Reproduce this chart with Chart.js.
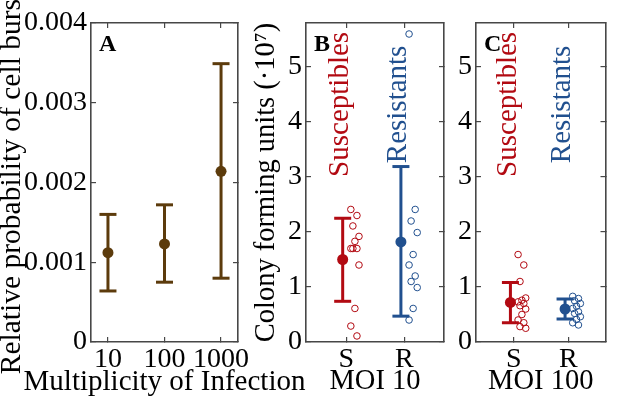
<!DOCTYPE html>
<html>
<head>
<meta charset="utf-8">
<script src="https://cdn.jsdelivr.net/npm/chart.js@4.4.1/dist/chart.umd.min.js"></script>
<style>
  html, body { margin: 0; padding: 0; background: #fff; }
  #wrap { position: relative; width: 617px; height: 396px; overflow: hidden; }
  #wrap canvas { position: absolute; left: 0; top: 0; }
</style>
</head>
<body>
<div id="wrap">
  <canvas id="panelA" width="617" height="396"></canvas>
  <canvas id="panelB" width="617" height="396"></canvas>
  <canvas id="panelC" width="617" height="396"></canvas>
</div>
<script>
// Panel A: relative probability of cell burst per MOI
const moiLabels = ["10", "100", "1000"];
const burstMean = [0.00112, 0.00123, 0.00214];
const burstLow = [0.00064, 0.00075, 0.0008];
const burstHigh = [0.0016, 0.00172, 0.00349];
const burstTicks = [0, 0.001, 0.002, 0.003, 0.004];
const burstTickLabels = ["0", "0.001", "0.002", "0.003", "0.004"];

// Panels B and C: colony forming units (x 10^7)
const groupLabels = ["S", "R"];
const cfuTicks = [0, 1, 2, 3, 4, 5];
const cfuTickLabels = ["0", "1", "2", "3", "4", "5"];

const moi10Mean = [1.50, 1.82];
const moi10Low = [0.74, 0.47];
const moi10High = [2.25, 3.19];
const moi10Susceptibles = [2.41, 2.30, 2.11, 1.92, 1.83, 1.70, 1.70, 1.70, 1.40, 0.61, 0.29, 0.11];
const moi10Resistants = [5.60, 2.41, 2.20, 1.99, 1.59, 1.40, 1.20, 1.10, 0.99, 0.61, 0.40];

const moi100Mean = [0.72, 0.60];
const moi100Low = [0.35, 0.42];
const moi100High = [1.08, 0.78];
const moi100Susceptibles = [1.59, 1.40, 1.10, 0.80, 0.76, 0.73, 0.70, 0.66, 0.60, 0.50, 0.40, 0.35, 0.28, 0.25];
const moi100Resistants = [0.83, 0.79, 0.75, 0.70, 0.65, 0.61, 0.55, 0.52, 0.46, 0.41, 0.35, 0.31];

const FONT = "'Liberation Serif', 'Times New Roman', serif";
const W = 617, H = 396;
const frame = "#474747";
const brown = "#5c3b0c";
const red = "#b20a12";
const blue = "#21508f";

Chart.defaults.font.family = FONT;
Chart.defaults.color = "#000";

const fixTicks = vals => s => { s.ticks = vals.map(v => ({ value: v })); };
const jitter = i => 0.08 + 0.14 * (((i * 3) % 5) / 4);

// four axes make the closed frame, with ticks pointing inward
function frameScales(p) {
  const grid = { drawOnChartArea: false, drawTicks: true, tickLength: -5, color: frame, lineWidth: 1.2 };
  const border = { display: true, color: frame, width: 1.6 };
  const font = { family: FONT, size: 28, lineHeight: 1 };
  const titleFont = { family: FONT, size: p.titleSize || 28.5, lineHeight: 1 };
  return {
    x: {
      type: "linear", position: "bottom", min: p.xMin, max: p.xMax, grid, border,
      afterBuildTicks: fixTicks(p.xTicks),
      ticks: { font, color: "#000", padding: 9, maxRotation: 0, autoSkip: false, callback: (v, i) => p.xLabels[i] },
      title: { display: !!p.xTitle, text: p.xTitle || "", font: titleFont, color: "#000", padding: 0 },
      afterFit: s => { s.height = H - p.bottom; }
    },
    x2: {
      type: "linear", position: "top", min: p.xMin, max: p.xMax, grid, border,
      afterBuildTicks: fixTicks(p.xTicks),
      ticks: { display: false },
      afterFit: s => { s.height = p.top; }
    },
    y: {
      type: "linear", position: "left", min: p.yMin, max: p.yMax, grid, border,
      afterBuildTicks: fixTicks(p.yTicks),
      ticks: { font, color: "#000", padding: 9, callback: (v, i) => p.yLabels[i] },
      title: { display: !!p.yTitle, text: p.yTitle || "", font: titleFont, color: "#000", padding: { top: p.yTitlePad || 0 } },
      afterFit: s => { s.width = p.left - p.padLeft; }
    },
    y2: {
      type: "linear", position: "right", min: p.yMin, max: p.yMax, grid, border,
      afterBuildTicks: fixTicks(p.yTicks),
      ticks: { display: false },
      afterFit: s => { s.width = W - p.right; }
    }
  };
}

function errorSets(x, mean, low, high, color) {
  return [
    { type: "scatter", data: [{ x, y: mean }], pointRadius: 5.5, backgroundColor: color, borderColor: color, borderWidth: 0 },
    { type: "scatter", data: [{ x, y: low }, { x, y: high }], pointStyle: "line", pointRadius: 8.5, borderColor: color, borderWidth: 3 },
    { type: "line", data: [{ x, y: low }, { x, y: high }], borderColor: color, borderWidth: 3, pointRadius: 0, fill: false }
  ];
}

function dotSet(x, vals, color) {
  return {
    type: "scatter",
    data: vals.map((v, i) => ({ x: x + jitter(i), y: v })),
    pointRadius: 3.3, borderWidth: 1, borderColor: color, backgroundColor: "rgba(0,0,0,0)"
  };
}

// panel letter, rotated group names, and a bottom title wider than the plot
const notes = {
  id: "notes",
  afterDatasetsDraw(chart, args, o) {
    const { ctx, chartArea, scales } = chart;
    ctx.save();
    ctx.font = "bold 24px " + FONT;
    ctx.fillStyle = "#000";
    ctx.textAlign = "left";
    ctx.textBaseline = "top";
    ctx.fillText(o.letter, chartArea.left + 8, chartArea.top + 10);
    if (o.wideTitle) {
      ctx.font = "29px " + FONT;
      ctx.textAlign = "center";
      ctx.textBaseline = "middle";
      ctx.fillText(o.wideTitle, (chartArea.left + chartArea.right) / 2, H - 14);
    }
    (o.tags || []).forEach(t => {
      ctx.save();
      ctx.translate(scales.x.getPixelForValue(t.x), scales.y.getPixelForValue(t.y));
      ctx.rotate(-Math.PI / 2);
      ctx.font = "29px " + FONT;
      ctx.fillStyle = t.color;
      ctx.textAlign = "center";
      ctx.textBaseline = "middle";
      ctx.fillText(t.text, 0, 0);
      ctx.restore();
    });
    ctx.restore();
  }
};

function makePanel(id, p, datasets, noteOpts) {
  new Chart(document.getElementById(id), {
    type: "scatter",
    data: { datasets },
    options: {
      responsive: false,
      animation: false,
      events: [],
      layout: { padding: { left: p.padLeft, right: 0, top: 0, bottom: 0 } },
      scales: frameScales(p),
      plugins: { legend: { display: false }, tooltip: { enabled: false }, notes: noteOpts }
    },
    plugins: [notes]
  });
}

// A
const setsA = [];
moiLabels.forEach((_, i) => setsA.push(...errorSets(i, burstMean[i], burstLow[i], burstHigh[i], brown)));
makePanel("panelA", {
  padLeft: 0, left: 91, right: 238, top: 17, bottom: 342, titleSize: 29.5, yTitlePad: -2.5,
  xMin: -0.3, xMax: 2.3, xTicks: [0, 1, 2], xLabels: moiLabels,
  yMin: 0, yMax: 0.004, yTicks: burstTicks, yLabels: burstTickLabels, yTitle: "Relative probability of cell burst"
}, setsA, { letter: "A", wideTitle: "Multiplicity of Infection" });

// B and C share the same layout of groups
function groupSets(mean, low, high, sus, res) {
  return [
    ...errorSets(-0.06, mean[0], low[0], high[0], red),
    ...errorSets(0.94, mean[1], low[1], high[1], blue),
    dotSet(0, sus, red),
    dotSet(1, res, blue)
  ];
}
const tagsBC = [
  { text: "Susceptibles", x: -0.1, y: 4.32, color: red },
  { text: "Resistants", x: 0.9, y: 4.32, color: blue }
];

makePanel("panelB", {
  padLeft: 252, left: 306, right: 444, top: 17, bottom: 342,
  xMin: -0.69, xMax: 1.68, xTicks: [0, 1], xLabels: groupLabels, xTitle: "MOI 10",
  yMin: 0, yMax: 5.8, yTicks: cfuTicks, yLabels: cfuTickLabels, yTitle: "Colony forming units (·10⁷)"
}, groupSets(moi10Mean, moi10Low, moi10High, moi10Susceptibles, moi10Resistants), { letter: "B", tags: tagsBC });

makePanel("panelC", {
  padLeft: 420, left: 476, right: 614, top: 17, bottom: 342,
  xMin: -0.69, xMax: 1.68, xTicks: [0, 1], xLabels: groupLabels, xTitle: "MOI 100",
  yMin: 0, yMax: 5.8, yTicks: cfuTicks, yLabels: cfuTickLabels
}, groupSets(moi100Mean, moi100Low, moi100High, moi100Susceptibles, moi100Resistants), { letter: "C", tags: tagsBC });
</script>
</body>
</html>
